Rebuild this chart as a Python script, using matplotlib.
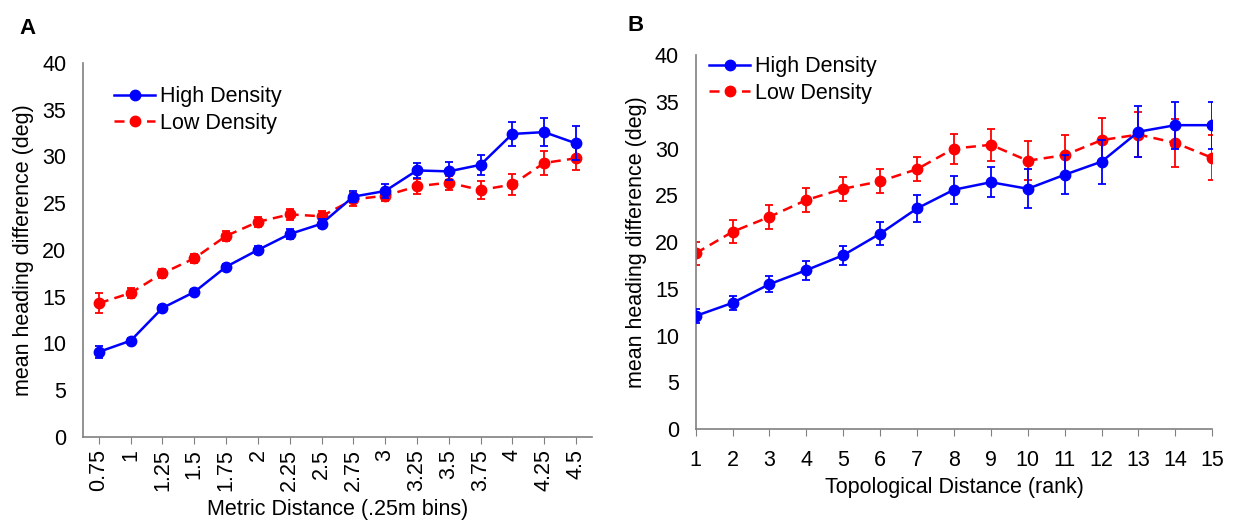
import matplotlib.pyplot as plt
from matplotlib.lines import Line2D
import numpy as np

plt.rcParams['font.family'] = ['Liberation Sans', 'DejaVu Sans']

# Panel A - metric distance
metric_labels = ["0.75", "1", "1.25", "1.5", "1.75", "2", "2.25", "2.5",
                 "2.75", "3", "3.25", "3.5", "3.75", "4", "4.25", "4.5"]
a_high = [9.1, 10.3, 13.8, 15.5, 18.2, 20.0, 21.7, 22.8,
          25.7, 26.3, 28.5, 28.4, 29.1, 32.4, 32.6, 31.4]
a_high_err = [0.6, 0.25, 0.3, 0.35, 0.35, 0.4, 0.5, 0.5,
              0.55, 0.75, 0.8, 0.95, 1.1, 1.3, 1.5, 1.8]
a_low = [14.3, 15.4, 17.5, 19.1, 21.5, 23.0, 23.8, 23.6,
         25.4, 25.8, 26.8, 27.2, 26.4, 27.0, 29.3, 29.8]
a_low_err = [1.05, 0.55, 0.5, 0.5, 0.5, 0.55, 0.55, 0.55,
             0.65, 0.6, 0.8, 0.75, 1.0, 1.1, 1.3, 1.25]

# Panel B - topological distance
topo_rank = list(range(1, 16))
b_high = [12.1, 13.5, 15.5, 17.0, 18.6, 20.9, 23.6, 25.6,
          26.4, 25.7, 27.2, 28.6, 31.8, 32.5, 32.5]
b_high_err = [0.7, 0.75, 0.85, 1.0, 1.0, 1.2, 1.4, 1.5,
              1.6, 2.1, 2.1, 2.35, 2.7, 2.5, 2.5]
b_low = [18.8, 21.1, 22.7, 24.5, 25.7, 26.5, 27.8, 30.0,
         30.4, 28.7, 29.3, 30.9, 31.5, 30.6, 29.0]
b_low_err = [1.2, 1.25, 1.3, 1.3, 1.3, 1.3, 1.3, 1.6,
             1.7, 2.1, 2.1, 2.35, 2.4, 2.55, 2.4]

fig = plt.figure(figsize=(12.33, 5.24), dpi=100)
axA = fig.add_axes([0.0673, 0.166, 0.4127, 0.714])
axB = fig.add_axes([0.5642, 0.181, 0.4190, 0.714])

blue = '#0000ff'
red = '#ff0000'
gray = '#808080'
fs = 15.5
dash = (0, (4, 2.5))


def draw(ax, x, hi, hi_e, lo, lo_e):
    ax.errorbar(x, lo, yerr=lo_e, color=red, marker='o', ms=7.5, lw=1.8,
                ls=dash, capsize=3, elinewidth=1.3, capthick=1.3, zorder=2)
    ax.errorbar(x, hi, yerr=hi_e, color=blue, marker='o', ms=7.5, lw=1.8,
                capsize=3, elinewidth=1.3, capthick=1.3, zorder=3)
    ax.set_ylim(0, 40)
    ax.set_yticks(range(0, 41, 5))
    for s in ['top', 'right']:
        ax.spines[s].set_visible(False)
    for s in ['left', 'bottom']:
        ax.spines[s].set_color(gray)
        ax.spines[s].set_linewidth(1.2)
    ax.tick_params(axis='y', length=0, labelsize=fs, pad=12)
    ax.tick_params(axis='x', length=5, color=gray, labelsize=fs, direction='out')
    ax.set_ylabel('mean heading difference (deg)', fontsize=fs, labelpad=6)


handles = [Line2D([], [], color=blue, marker='o', ms=7.5, lw=1.8),
           Line2D([], [], color=red, marker='o', ms=7.5, lw=1.8, ls=dash)]
names = ['High Density', 'Low Density']

xa = np.arange(len(metric_labels))
draw(axA, xa, a_high, a_high_err, a_low, a_low_err)
axA.set_xlim(-0.5, len(metric_labels) - 0.5)
axA.set_xticks(xa)
axA.set_xticklabels(metric_labels, rotation=90)
axA.set_xlabel('Metric Distance (.25m bins)', fontsize=fs, labelpad=6)
axA.legend(handles, names, loc='upper left', bbox_to_anchor=(0.045, 0.96),
           frameon=False, fontsize=fs, handlelength=1.9, handletextpad=0.2,
           labelspacing=0.25, borderaxespad=0)

draw(axB, topo_rank, b_high, b_high_err, b_low, b_low_err)
axB.set_xlim(1, 15)
axB.set_xticks(topo_rank)
axB.tick_params(axis='x', pad=10)
axB.set_xlabel('Topological Distance (rank)', fontsize=fs, labelpad=4)
axB.legend(handles, names, loc='upper left', bbox_to_anchor=(0.01, 1.02),
           frameon=False, fontsize=fs, handlelength=1.9, handletextpad=0.2,
           labelspacing=0.25, borderaxespad=0)

fig.text(0.016, 0.935, 'A', fontsize=16, fontweight='bold')
fig.text(0.509, 0.94, 'B', fontsize=16, fontweight='bold')

fig.savefig('out.png', dpi=100)
